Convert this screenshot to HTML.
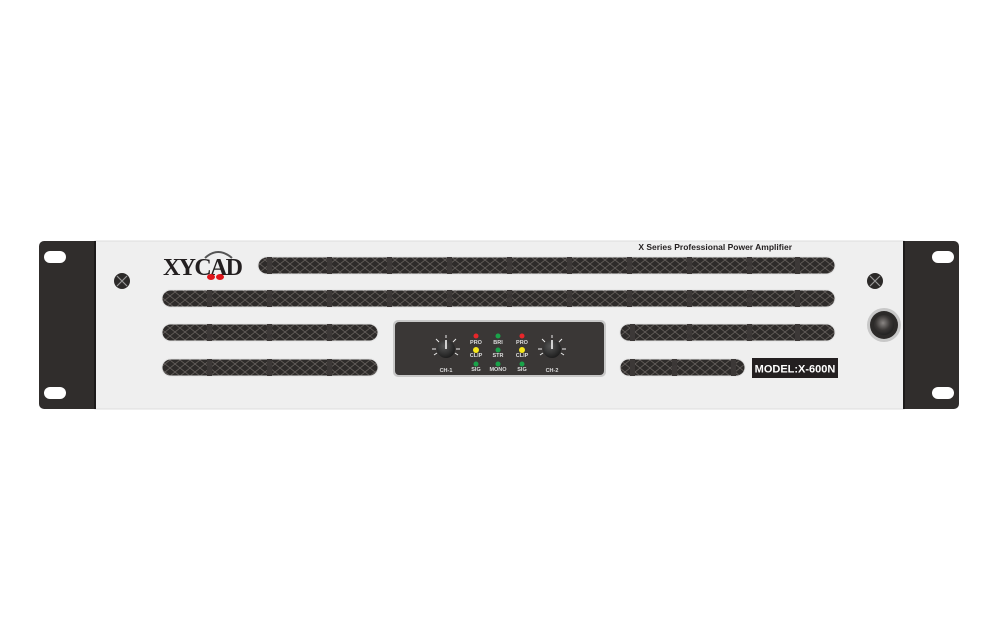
<!DOCTYPE html>
<html><head><style>
body{margin:0;width:1000px;height:620px;background:#fff;overflow:hidden;font-family:"Liberation Sans",sans-serif}
</style></head><body>
<svg width="1000" height="620" viewBox="0 0 1000 620" xmlns="http://www.w3.org/2000/svg">
<defs>
<pattern id="mesh" width="10" height="8" patternUnits="userSpaceOnUse">
<rect width="10" height="8" fill="#2e2b2a"/>
<path d="M0 0L10 8M10 0L0 8" stroke="#66615e" stroke-width="0.8"/>
</pattern>
<radialGradient id="btn" cx="0.45" cy="0.4" r="0.6"><stop offset="0" stop-color="#8a8684"/><stop offset="0.6" stop-color="#3a3736"/><stop offset="1" stop-color="#222"/></radialGradient>
<radialGradient id="knob" cx="0.4" cy="0.35" r="0.7"><stop offset="0" stop-color="#555"/><stop offset="1" stop-color="#1a1a1a"/></radialGradient>
</defs>
<!-- ears -->
<rect x="39" y="241" width="60" height="168" rx="5" fill="#302d2c"/>
<rect x="900" y="241" width="59" height="168" rx="5" fill="#302d2c"/>
<rect x="44" y="251" width="22" height="12" rx="6" fill="#fff"/>
<rect x="44" y="387" width="22" height="12" rx="6" fill="#fff"/>
<rect x="932" y="251" width="22" height="12" rx="6" fill="#fff"/>
<rect x="932" y="387" width="22" height="12" rx="6" fill="#fff"/>
<!-- panel -->
<rect x="95" y="241" width="809" height="168" fill="#efefef"/>
<rect x="95" y="241" width="809" height="168" fill="none" stroke="#dcdcdc" stroke-width="1"/>
<line x1="95" y1="241" x2="95" y2="409" stroke="#1c1a1a" stroke-width="2"/>
<line x1="904" y1="241" x2="904" y2="409" stroke="#1c1a1a" stroke-width="2"/>
<!-- vents -->
<g stroke="#e0e0e0" stroke-width="1">
<rect x="258" y="257" width="577" height="17" rx="8.5" fill="url(#mesh)"/>
<rect x="162" y="290" width="673" height="17" rx="8.5" fill="url(#mesh)"/>
<rect x="162" y="324" width="216" height="17" rx="8.5" fill="url(#mesh)"/>
<rect x="620" y="324" width="215" height="17" rx="8.5" fill="url(#mesh)"/>
<rect x="162" y="359" width="216" height="17" rx="8.5" fill="url(#mesh)"/>
<rect x="620" y="359" width="125" height="17" rx="8.5" fill="url(#mesh)"/>
</g>
<g fill="#3c3837">
<rect x="207" y="290" width="5" height="17"/><rect x="267" y="290" width="5" height="17"/><rect x="327" y="290" width="5" height="17"/><rect x="387" y="290" width="5" height="17"/><rect x="447" y="290" width="5" height="17"/><rect x="507" y="290" width="5" height="17"/><rect x="567" y="290" width="5" height="17"/><rect x="627" y="290" width="5" height="17"/><rect x="687" y="290" width="5" height="17"/><rect x="747" y="290" width="5" height="17"/><rect x="795" y="290" width="5" height="17"/>
<rect x="267" y="257" width="5" height="17"/><rect x="327" y="257" width="5" height="17"/><rect x="387" y="257" width="5" height="17"/><rect x="447" y="257" width="5" height="17"/><rect x="507" y="257" width="5" height="17"/><rect x="567" y="257" width="5" height="17"/><rect x="627" y="257" width="5" height="17"/><rect x="687" y="257" width="5" height="17"/><rect x="747" y="257" width="5" height="17"/><rect x="795" y="257" width="5" height="17"/>
<rect x="207" y="324" width="5" height="17"/><rect x="267" y="324" width="5" height="17"/><rect x="327" y="324" width="5" height="17"/><rect x="630" y="324" width="5" height="17"/><rect x="687" y="324" width="5" height="17"/><rect x="747" y="324" width="5" height="17"/><rect x="795" y="324" width="5" height="17"/>
<rect x="207" y="359" width="5" height="17"/><rect x="267" y="359" width="5" height="17"/><rect x="327" y="359" width="5" height="17"/><rect x="630" y="359" width="5" height="17"/><rect x="672" y="359" width="5" height="17"/><rect x="731" y="359" width="5" height="17"/>
</g>
<!-- logo -->
<text x="163" y="275" font-family="Liberation Serif,serif" font-weight="bold" font-size="24" fill="#231f20" textLength="80">XYCAD</text>
<path d="M205 258 Q218 246 232 258" stroke="#555" stroke-width="2" fill="none"/>
<ellipse cx="211" cy="277" rx="4" ry="3" fill="#e0161b"/><ellipse cx="220" cy="277" rx="4" ry="3" fill="#e0161b"/>
<text x="792" y="250" font-size="8.5" font-weight="bold" fill="#231f20" text-anchor="end">X Series Professional Power Amplifier</text>
<!-- screws -->
<circle cx="122" cy="281" r="8" fill="#2c2a29"/><path d="M117 276L127 286M127 276L117 286" stroke="#999" stroke-width="1.2"/>
<circle cx="875" cy="281" r="8" fill="#2c2a29"/><path d="M870 276L880 286M880 276L870 286" stroke="#999" stroke-width="1.2"/>
<!-- power -->
<circle cx="884" cy="325" r="17" fill="#c8c8c8"/>
<circle cx="884" cy="325" r="14" fill="#2c2a29"/>
<circle cx="884" cy="325" r="10" fill="url(#btn)"/>
<!-- model -->
<rect x="752" y="358" width="86" height="20" fill="#231f20"/>
<text x="795" y="372.5" font-size="11" font-weight="bold" fill="#fff" text-anchor="middle">MODEL:X-600N</text>
<!-- control -->
<rect x="393" y="320" width="213" height="57" rx="5" fill="#c8c8c8"/>
<rect x="395" y="322" width="209" height="53" rx="4" fill="#3a3736"/>
<g stroke="#eee" stroke-width="1">
<g transform="translate(446,349)"><line x1="-14" y1="0" x2="-10" y2="0"/><line x1="14" y1="0" x2="10" y2="0"/><line x1="-10" y1="-10" x2="-7" y2="-7"/><line x1="10" y1="-10" x2="7" y2="-7"/><line x1="0" y1="-14" x2="0" y2="-11"/><line x1="-12" y1="6" x2="-9" y2="4"/><line x1="12" y1="6" x2="9" y2="4"/></g>
<g transform="translate(552,349)"><line x1="-14" y1="0" x2="-10" y2="0"/><line x1="14" y1="0" x2="10" y2="0"/><line x1="-10" y1="-10" x2="-7" y2="-7"/><line x1="10" y1="-10" x2="7" y2="-7"/><line x1="0" y1="-14" x2="0" y2="-11"/><line x1="-12" y1="6" x2="-9" y2="4"/><line x1="12" y1="6" x2="9" y2="4"/></g>
</g>
<circle cx="446" cy="349" r="9" fill="url(#knob)"/><line x1="446" y1="349" x2="446" y2="340" stroke="#fff" stroke-width="1.5"/>
<circle cx="552" cy="349" r="9" fill="url(#knob)"/><line x1="552" y1="349" x2="552" y2="340" stroke="#fff" stroke-width="1.5"/>
<g font-size="5.5" font-weight="bold" fill="#ddd" text-anchor="middle">
<text x="446" y="372">CH-1</text><text x="552" y="372">CH-2</text>
<text x="476" y="344">PRO</text><text x="498" y="344">BRI</text><text x="522" y="344">PRO</text>
<text x="476" y="357">CLIP</text><text x="498" y="357">STR</text><text x="522" y="357">CLIP</text>
<text x="476" y="371">SIG</text><text x="498" y="371">MONO</text><text x="522" y="371">SIG</text>
</g>
<circle cx="476" cy="336" r="2.5" fill="#e8262a"/><circle cx="498" cy="336" r="2.5" fill="#1aa34a"/><circle cx="522" cy="336" r="2.5" fill="#e8262a"/>
<circle cx="476" cy="350" r="3" fill="#f5e61a"/><circle cx="498" cy="350" r="2.5" fill="#1aa34a"/><circle cx="522" cy="350" r="3" fill="#f5e61a"/>
<circle cx="476" cy="364" r="2.5" fill="#1aa34a"/><circle cx="498" cy="364" r="2.5" fill="#1aa34a"/><circle cx="522" cy="364" r="2.5" fill="#1aa34a"/>
</svg>
</body></html>
